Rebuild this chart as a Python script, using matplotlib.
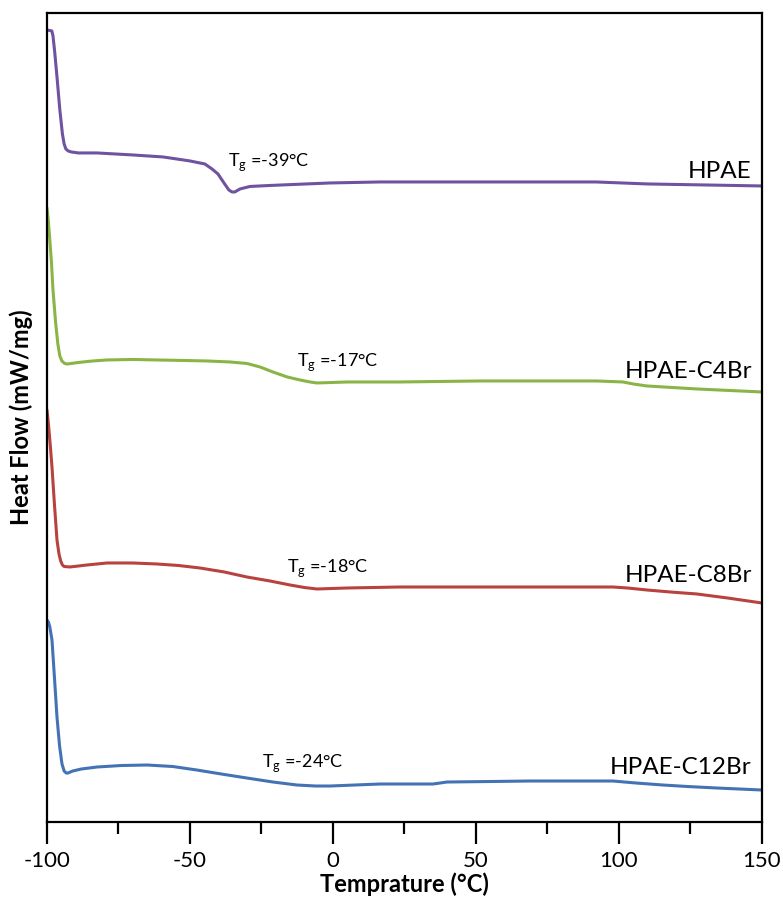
import matplotlib
matplotlib.use("Agg")
import matplotlib.pyplot as plt
from matplotlib.ticker import MultipleLocator

# ── DSC traces (heat flow, curves stacked with vertical offsets) ───────────────
hpae_T = [-100, -98.3, -97.9, -97.3, -96.5, -95.5, -94.6, -94.0, -93.4, -92.6,
          -91.5, -89.0, -82.5, -70.0, -59.4, -50.0, -44.8, -42.3, -40.2, -38.1,
          -36.4, -35.3, -34.3, -32.5, -29.0, -22.0, -1.0, 16.4, 50.0, 92.0,
          110.0, 130.0, 150.0]
hpae_Q = [7.92, 7.91, 7.86, 7.70, 7.45, 7.12, 6.88, 6.78, 6.73, 6.71,
          6.70, 6.69, 6.69, 6.67, 6.65, 6.61, 6.58, 6.53, 6.48, 6.39,
          6.32, 6.30, 6.30, 6.33, 6.355, 6.365, 6.39, 6.40, 6.40, 6.40,
          6.38, 6.37, 6.36]

c4_T = [-100, -99.5, -99.0, -98.4, -97.9, -97.0, -96.2, -95.5, -94.8, -93.8,
        -93.0, -91.5, -89.0, -84.0, -79.0, -70.0, -61.5, -52.0, -44.1, -36.0,
        -30.1, -25.5, -21.0, -16.0, -11.5, -8.0, -5.6, 5.0, 23.4, 51.4,
        92.3, 101.4, 105.0, 109.8, 127.3, 150.0]
c4_Q = [6.14, 6.00, 5.82, 5.58, 5.32, 5.00, 4.78, 4.66, 4.61, 4.585,
        4.58, 4.585, 4.595, 4.61, 4.62, 4.625, 4.62, 4.615, 4.61, 4.60,
        4.585, 4.55, 4.50, 4.45, 4.42, 4.40, 4.39, 4.40, 4.40, 4.41,
        4.41, 4.40, 4.38, 4.36, 4.33, 4.30]

c8_T = [-100, -99.4, -98.8, -98.25, -97.4, -96.5, -95.8, -95.2, -94.6, -94.0,
        -92.0, -89.0, -86.0, -79.0, -70.0, -61.5, -54.0, -46.5, -38.0, -30.1,
        -22.0, -15.0, -10.0, -5.6, 5.0, 23.4, 51.4, 90.0, 97.9, 103.0,
        109.8, 118.0, 127.3, 138.0, 150.0]
c8_Q = [4.12, 3.95, 3.75, 3.55, 3.18, 2.82, 2.68, 2.61, 2.57, 2.555,
        2.55, 2.56, 2.57, 2.59, 2.59, 2.58, 2.565, 2.54, 2.50, 2.45,
        2.41, 2.37, 2.345, 2.33, 2.34, 2.35, 2.35, 2.35, 2.35, 2.34,
        2.32, 2.30, 2.28, 2.24, 2.19]

c12_T = [-100, -99.5, -99.0, -98.25, -97.4, -96.5, -95.6, -94.75, -94.0, -93.3,
         -92.65, -91.0, -88.0, -82.5, -74.0, -65.0, -56.0, -47.6, -39.0, -30.1,
         -21.0, -12.6, -6.0, -1.0, 16.4, 35.0, 39.9, 55.0, 68.9, 97.9,
         106.0, 115.4, 124.0, 134.3, 150.0]
c12_Q = [2.02, 2.00, 1.95, 1.82, 1.45, 1.05, 0.76, 0.58, 0.51, 0.49,
         0.49, 0.51, 0.53, 0.55, 0.565, 0.57, 0.555, 0.52, 0.48, 0.44,
         0.40, 0.37, 0.36, 0.36, 0.38, 0.38, 0.40, 0.405, 0.41, 0.41,
         0.39, 0.37, 0.355, 0.34, 0.32]

names = ["HPAE", "HPAE-C4Br", "HPAE-C8Br", "HPAE-C12Br"]
colors = ["#6F52A0", "#8AB446", "#B8423F", "#4373B5"]
name_y = [6.50, 4.50, 2.46, 0.55]

tg_values = [-39, -17, -18, -24]
tg_x = [-36.7, -12.6, -16.1, -24.8]
tg_y = [6.60, 4.60, 2.54, 0.59]

# ── Plot ──────────────────────────────────────────────────────────────────────
plt.rcParams["font.family"] = ["Lato", "DejaVu Sans"]
plt.rcParams["mathtext.fontset"] = "custom"
plt.rcParams["mathtext.rm"] = "Lato"
plt.rcParams["axes.unicode_minus"] = False

fig = plt.figure(figsize=(7.83, 9.05), dpi=100)
ax = fig.add_axes([0.060, 0.0917, 0.913, 0.894])

series = [(hpae_T, hpae_Q), (c4_T, c4_Q), (c8_T, c8_Q), (c12_T, c12_Q)]
for (T, Q), col in zip(series, colors):
    ax.plot(T, Q, color=col, linewidth=2.2, solid_joinstyle="round",
            solid_capstyle="round")

for name, col, y in zip(names, colors, name_y):
    ax.text(146.5, y, name, ha="right", va="center", fontsize=17.5, color="black")

for tg, x, y in zip(tg_values, tg_x, tg_y):
    ax.text(x, y, r"T$_\mathregular{g}$" + f" =-{abs(tg)}°C", ha="left", va="center",
            fontsize=13, color="black")

ax.set_xlim(-100, 150)
ax.set_ylim(0, 8.09)
ax.xaxis.set_major_locator(MultipleLocator(50))
ax.xaxis.set_minor_locator(MultipleLocator(25))
ax.set_yticks([])
ax.tick_params(axis="x", which="major", direction="out", length=16, width=1.6,
               labelsize=16, pad=5)
ax.tick_params(axis="x", which="minor", direction="out", length=8.5, width=1.6)
for sp in ax.spines.values():
    sp.set_linewidth(1.6)

ax.set_xlabel("Temprature (°C)", fontsize=17, fontweight="bold", labelpad=1)
ax.set_ylabel("Heat Flow (mW/mg)", fontsize=17, fontweight="bold", labelpad=10)

plt.savefig("out.png", dpi=100)
